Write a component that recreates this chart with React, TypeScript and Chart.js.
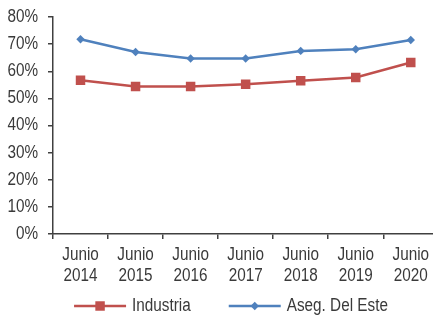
import React, { useEffect, useRef } from "react";
import { Chart, registerables } from "chart.js";

Chart.register(...registerables);

const years = ["2014", "2015", "2016", "2017", "2018", "2019", "2020"];
const categories = years.map((y) => ["Junio", y]);
const industria = [56.7, 54.4, 54.4, 55.2, 56.5, 57.7, 63.2];
const asegDelEste = [71.8, 67.1, 64.7, 64.7, 67.5, 68.1, 71.5];
const seriesNames = ["Industria", "Aseg. Del Este"];

const RED = "#C0504D";
const BLUE = "#4F81BD";
const TEXT = "#3a3a3a";
const AXIS = "#404040";
const FONT = "'Liberation Sans', Arial, sans-serif";
const FONT_SIZE = 18;
// condensed look: labels are drawn narrowed horizontally
const NARROW = 0.85;

function narrowText(
  ctx: CanvasRenderingContext2D,
  text: string,
  x: number,
  y: number,
  align: CanvasTextAlign
) {
  ctx.save();
  ctx.translate(x, y);
  ctx.scale(NARROW, 1);
  ctx.textAlign = align;
  ctx.textBaseline = "middle";
  ctx.fillText(text, 0, 0);
  ctx.restore();
}

function drawMarker(ctx: CanvasRenderingContext2D, style: string, r: number, x: number, y: number) {
  ctx.beginPath();
  if (style === "rect") {
    const s = Math.SQRT1_2 * r;
    ctx.rect(x - s, y - s, 2 * s, 2 * s);
  } else {
    ctx.moveTo(x - r, y);
    ctx.lineTo(x, y - r);
    ctx.lineTo(x + r, y);
    ctx.lineTo(x, y + r);
    ctx.closePath();
  }
  ctx.fill();
}

// Axis labels in the condensed style
const axisLabels = {
  id: "axisLabels",
  afterDraw(chart: any) {
    const ctx = chart.ctx;
    const xs = chart.scales.x;
    const ys = chart.scales.y;
    ctx.save();
    ctx.font = `${FONT_SIZE}px ${FONT}`;
    ctx.fillStyle = TEXT;
    ys.ticks.forEach((t: any, i: number) => {
      narrowText(ctx, `${t.value}%`, ys.right - 15, ys.getPixelForTick(i), "right");
    });
    const top = xs.top + 21;
    const lh = 21;
    (chart.data.labels as string[][]).forEach((lines, i) => {
      const px = xs.getPixelForTick(i);
      lines.forEach((line, j) => narrowText(ctx, line, px, top + j * lh, "center"));
    });
    ctx.restore();
  },
};

// Legend under the axis: a short line with the series marker, then the series name
const legendPlugin = {
  id: "legendPlugin",
  afterDraw(chart: any) {
    const ctx = chart.ctx;
    const y = 306;
    const lineLen = 52;
    const gap = 6;
    const itemGap = 38;
    ctx.save();
    ctx.font = `${FONT_SIZE}px ${FONT}`;
    const items = chart.data.datasets.map((ds: any) => ({
      ds,
      w: lineLen + gap + ctx.measureText(ds.label).width * NARROW,
    }));
    const total = items.reduce((s: number, it: any) => s + it.w, 0) + itemGap * (items.length - 1);
    let x = 231 - total / 2;
    for (const it of items) {
      const ds = it.ds;
      ctx.strokeStyle = ds.borderColor;
      ctx.lineWidth = ds.borderWidth;
      ctx.beginPath();
      ctx.moveTo(x, y);
      ctx.lineTo(x + lineLen, y);
      ctx.stroke();
      ctx.fillStyle = ds.pointBackgroundColor;
      drawMarker(ctx, ds.pointStyle, ds.pointRadius, x + lineLen / 2, y);
      ctx.fillStyle = TEXT;
      narrowText(ctx, ds.label, x + lineLen + gap, y, "left");
      x += it.w + itemGap;
    }
    ctx.restore();
  },
};

export default function App() {
  const ref = useRef<HTMLCanvasElement>(null);

  useEffect(() => {
    if (!ref.current) return;
    const chart = new Chart(ref.current, {
      type: "line",
      data: {
        labels: categories,
        datasets: [
          {
            label: seriesNames[0],
            data: industria,
            borderColor: RED,
            backgroundColor: RED,
            pointBackgroundColor: RED,
            pointBorderColor: RED,
            borderWidth: 2.5,
            pointStyle: "rect",
            pointRadius: 6.7,
            pointBorderWidth: 0,
            tension: 0,
          },
          {
            label: seriesNames[1],
            data: asegDelEste,
            borderColor: BLUE,
            backgroundColor: BLUE,
            pointBackgroundColor: BLUE,
            pointBorderColor: BLUE,
            borderWidth: 2.5,
            pointStyle: "rectRot",
            pointRadius: 4.2,
            pointBorderWidth: 0,
            tension: 0,
          },
        ],
      },
      options: {
        responsive: false,
        animation: false,
        layout: { padding: { top: 17, right: 3, bottom: 0, left: 0 } },
        plugins: {
          legend: { display: false },
          tooltip: { enabled: false },
        },
        scales: {
          x: {
            offset: true,
            grid: {
              offset: true,
              drawOnChartArea: false,
              drawTicks: true,
              tickLength: 5,
              color: AXIS,
              lineWidth: 1.5,
            },
            border: { color: AXIS, width: 1.5 },
            ticks: { display: false, autoSkip: false, maxRotation: 0 },
            afterFit(scale: any) {
              scale.height = 86;
            },
          },
          y: {
            min: 0,
            max: 80,
            grid: {
              drawOnChartArea: false,
              drawTicks: true,
              tickLength: 5,
              color: AXIS,
              lineWidth: 1.5,
            },
            border: { color: AXIS, width: 1.5 },
            ticks: { display: false, stepSize: 10 },
            afterFit(scale: any) {
              scale.width = 53;
            },
          },
        },
      },
      plugins: [axisLabels, legendPlugin],
    });
    return () => chart.destroy();
  }, []);

  return (
    <div
      style={{
        position: "fixed",
        left: 0,
        top: 0,
        width: 433,
        height: 320,
        overflow: "hidden",
        background: "#fff",
      }}
    >
      <canvas ref={ref} width={445} height={320} style={{ display: "block" }} />
    </div>
  );
}
